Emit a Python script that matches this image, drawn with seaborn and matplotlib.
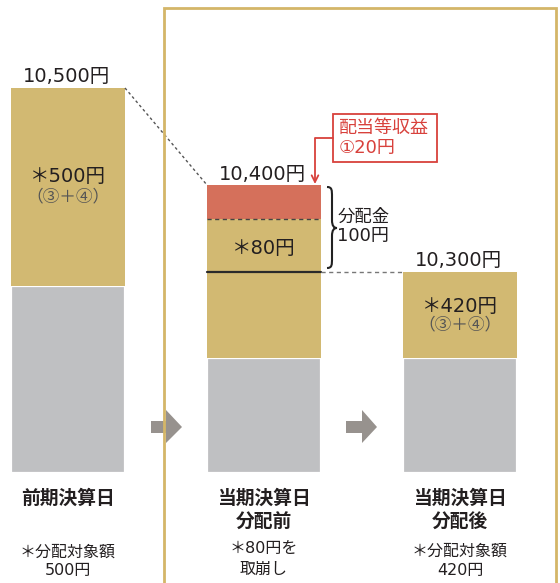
import numpy as np
import pandas as pd
import matplotlib
matplotlib.use("Agg")
import matplotlib.pyplot as plt
import seaborn as sns
from matplotlib.path import Path
from matplotlib.patches import PathPatch, Polygon, Rectangle

# ---------------- data ----------------
stages = ["前期決算日", "当期決算日\n分配前", "当期決算日\n分配後"]
nav_totals = [10500, 10400, 10300]          # 基準価額（円）
distributable = [500, None, 420]            # 分配対象額（円）
income = 20                                  # 配当等収益 ①
drawdown = 80                                # 取崩し
dividend = 100                               # 分配金
# schematic (not-to-scale) segment heights as drawn in the chart
seg_base = [187, 115, 115]
seg_reserve = [198, 86, 86]
seg_drawdown = [0, 53, 0]
seg_income = [0, 34, 0]
title_lines = [["前期決算日"], ["当期決算日", "分配前"], ["当期決算日", "分配後"]]
sub_notes = [["＊分配対象額", "500円"], ["＊80円を", "取崩し"], ["＊分配対象額", "420円"]]

# ---------------- style ----------------
sns.set_style("white")
plt.rcParams["font.family"] = ["Noto Sans CJK JP", "DejaVu Sans"]
NUMFONT = ["DejaVu Sans", "Noto Sans CJK JP"]

GOLD = "#D2B972"
GREY = "#BFC0C2"
RED_FILL = "#D5705B"
RED = "#D8413C"
FRAME = "#D4B668"
ARROW = "#97928E"
TXT = "#231F20"
SUBTXT = "#555555"

W_PX, H_PX = 560, 583
X0, SP, BASE = 68.0, 196.0, 473.0
W = 114 / SP


def dx(px):
    return (px - X0) / SP


def dy(py):
    return BASE - py


fig = plt.figure(figsize=(W_PX / 100, H_PX / 100), dpi=100)
ax = fig.add_axes([0, 0, 1, 1])

df = pd.DataFrame({"stage": stages, "base": seg_base, "reserve": seg_reserve,
                   "draw": seg_drawdown, "inc": seg_income})
b0 = np.zeros(3)
b1 = b0 + df["base"].values
b2 = b1 + df["reserve"].values
b3 = b2 + df["draw"].values
tops = b3 + df["inc"].values

common = dict(data=df, x="stage", order=stages, width=W, errorbar=None,
              saturation=1, ax=ax, zorder=2)
sns.barplot(y="base", color=GREY, edgecolor="white", linewidth=1.6, **common)
sns.barplot(y="reserve", color=GOLD, bottom=b1, linewidth=0, **common)
sns.barplot(y="draw", color=GOLD, bottom=b2, linewidth=0, **common)
sns.barplot(y="inc", color=RED_FILL, bottom=b3, linewidth=0, **common)

ax.set_xlim(dx(0), dx(W_PX))
ax.set_ylim(dy(H_PX), dy(0))
ax.axis("off")

# ---------------- lines ----------------
ax.plot([0 + W / 2, 1 - W / 2], [tops[0], tops[1]], color="#555555", lw=1.0,
        ls=(0, (2, 2)), zorder=3)
ax.plot([1 - W / 2, 1 + W / 2], [b2[1], b2[1]], color="#2a2a2a", lw=1.6, zorder=3)
ax.plot([1 + W / 2, 2 - W / 2], [b2[1], b2[1]], color="#777777", lw=1.0,
        ls=(0, (3, 2.5)), zorder=3)
ax.plot([1 - W / 2, 1 + W / 2], [b3[1], b3[1]], color="#444444", lw=1.0,
        ls=(0, (3, 2.5)), zorder=3)

# frame
ax.plot([dx(164), dx(164), dx(556), dx(556)], [dy(600), dy(8), dy(8), dy(600)],
        color=FRAME, lw=2.0, solid_joinstyle="miter", zorder=6)

# block arrows
for (xs, xh, xt) in [(151, 166, 182), (346, 362, 377)]:
    pts = [(xs, 421), (xh, 421), (xh, 410), (xt, 427), (xh, 443), (xh, 433), (xs, 433)]
    ax.add_patch(Polygon([(dx(a), dy(b)) for a, b in pts], closed=True,
                         facecolor=ARROW, edgecolor="none", zorder=4))

# brace for 分配金
bx = [(327, 187), (332, 187), (332, 190), (332, 197), (332, 220), (332, 226), (334, 228),
      (337, 228), (334, 228), (332, 230), (332, 236), (332, 258), (332, 265), (332, 268),
      (327, 268)]
codes = [Path.MOVETO, Path.CURVE4, Path.CURVE4, Path.CURVE4, Path.LINETO, Path.CURVE4,
         Path.CURVE4, Path.CURVE4, Path.CURVE4, Path.CURVE4, Path.CURVE4, Path.LINETO,
         Path.CURVE4, Path.CURVE4, Path.CURVE4]
ax.add_patch(PathPatch(Path([(dx(a), dy(b)) for a, b in bx], codes),
                       facecolor="none", edgecolor="#222222", lw=1.5, zorder=3))

# red callout
ax.add_patch(Rectangle((dx(333), dy(162)), dx(437) - dx(333), 162 - 114,
                       facecolor="white", edgecolor=RED, lw=1.3, zorder=3))
ax.text(dx(339), dy(128), "配当等収益", color=RED, fontsize=13, ha="left", va="center",
        zorder=4)
ax.text(dx(339), dy(148), f"①{income}円", color=RED, fontsize=13, ha="left", va="center",
        family=NUMFONT, zorder=4)
ax.plot([dx(333), dx(315)], [dy(138), dy(138)], color=RED, lw=1.3, zorder=3)
ax.annotate("", xy=(dx(315), tops[1] + 1), xytext=(dx(315), dy(138.6)),
            arrowprops=dict(arrowstyle="->", color=RED, lw=1.3, shrinkA=0, shrinkB=0,
                            mutation_scale=12), zorder=3)

# ---------------- texts ----------------
for i, v in enumerate(nav_totals):
    ax.text(i - 0.01, tops[i] + 11, f"{v:,}円", fontsize=14, color=TXT,
            ha="center", va="center", family=NUMFONT)

ax.text(0, dy(176), f"＊{distributable[0]}円", fontsize=14, color=TXT, ha="center",
        va="center", family=NUMFONT)
ax.text(0, dy(197), "（③＋④）", fontsize=12, color=SUBTXT, ha="center", va="center")
ax.text(2, dy(307), f"＊{distributable[2]}円", fontsize=14, color=TXT, ha="center",
        va="center", family=NUMFONT)
ax.text(2, dy(325), "（③＋④）", fontsize=12, color=SUBTXT, ha="center", va="center")
ax.text(1, dy(248), f"＊{drawdown}円", fontsize=14, color=TXT, ha="center", va="center",
        family=NUMFONT)

ax.text(dx(338), dy(217), "分配金", fontsize=12.5, color=TXT, ha="left", va="center")
ax.text(dx(337), dy(236), f"{dividend}円", fontsize=13, color=TXT, ha="left", va="center",
        family=NUMFONT)

title_y = [498, 522]
for i, lines in enumerate(title_lines):
    for j, s in enumerate(lines):
        ax.text(i, dy(title_y[j]), s, fontsize=13.5, fontweight="bold", color=TXT,
                ha="center", va="center")
sub_y = [[552, 571], [548, 569], [551, 571]]
for i, lines in enumerate(sub_notes):
    for j, s in enumerate(lines):
        ax.text(i, dy(sub_y[i][j]), s, fontsize=11.5, color=TXT, ha="center", va="center",
                family=NUMFONT)

fig.savefig("out.png", dpi=100)
